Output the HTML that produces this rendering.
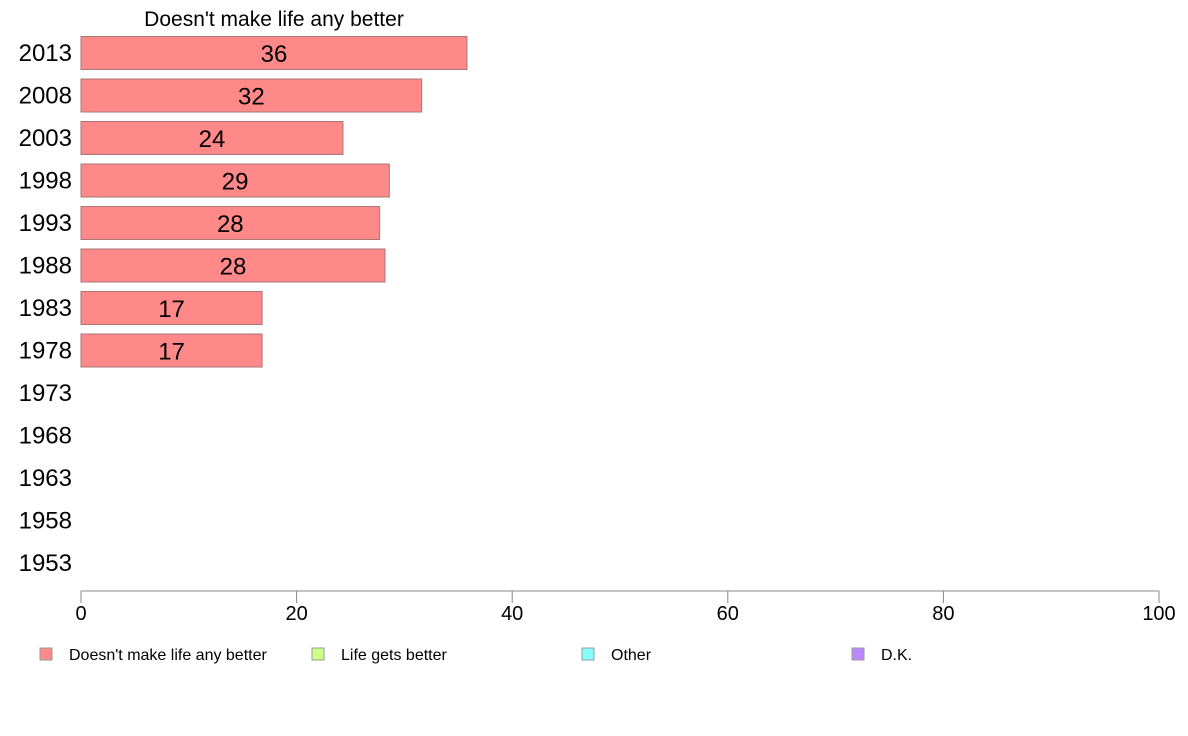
<!DOCTYPE html>
<html><head><meta charset="utf-8"><style>
body{margin:0;background:#fff}
svg{display:block;font-family:"Liberation Sans",sans-serif}
</style></head><body>
<svg id="c" width="1188" height="736" viewBox="0 0 1188 736">
<text x="274" y="26" font-size="21" text-anchor="middle" fill="#000">Doesn't make life any better</text>
<g id="bars"></g><g id="axis"></g><g id="legend"></g>
</svg>
<script>
const years=["2013","2008","2003","1998","1993","1988","1983","1978","1973","1968","1963","1958","1953"];
const values=[35.8,31.6,24.3,28.6,27.7,28.2,16.8,16.8,null,null,null,null,null];
const labels=["36","32","24","29","28","28","17","17","","","","",""];
const ticks=[0,20,40,60,80,100];
const legendNames=["Doesn't make life any better","Life gets better","Other","D.K."];
const legendColors=["#ff8888","#ccff88","#88ffff","#bb88ff"];
const NS="http://www.w3.org/2000/svg";
const x=v=>81+v*10.78;
const yc=i=>53+i*42.5;
function mk(t,a,p){const e=document.createElementNS(NS,t);for(const k in a)e.setAttribute(k,a[k]);p.appendChild(e);return e;}
const gb=document.getElementById('bars');
years.forEach((yr,i)=>{
  const t=mk('text',{x:72,y:yc(i)+8,'font-size':24,'text-anchor':'end',fill:'#000'},gb);t.textContent=yr;
  
  
  if(values[i]!=null){
    const r=mk('rect',{x:x(0),y:yc(i)-16.5,width:x(values[i])-x(0),height:33,fill:'#ff8888',stroke:'#aa7777','stroke-width':1},gb);
    
    
    const l=mk('text',{x:(x(0)+x(values[i]))/2,y:yc(i)+9,'font-size':24,'text-anchor':'middle',fill:'#000'},gb);l.textContent=labels[i];
    
    
  }
});
const ga=document.getElementById('axis');
const al=mk('line',{x1:x(0),x2:x(100),y1:591,y2:591,stroke:'#888'},ga);


ticks.forEach(v=>{
  const tl=mk('line',{x1:x(v),x2:x(v),y1:591,y2:603,stroke:'#888'},ga);
  
  
  const t=mk('text',{x:x(v),y:620,'font-size':20,'text-anchor':'middle',fill:'#000'},ga);t.textContent=v;
  
  
});
const gl=document.getElementById('legend');
const lx=[40,312,582,852];
legendNames.forEach((n,i)=>{
  const r=mk('rect',{x:lx[i],y:648,width:12,height:12,fill:legendColors[i],stroke:'#999'},gl);
  
  
  const t=mk('text',{x:lx[i]+29,y:660,'font-size':16,fill:'#000'},gl);t.textContent=n;
  
  
});
</script>
</body></html>
